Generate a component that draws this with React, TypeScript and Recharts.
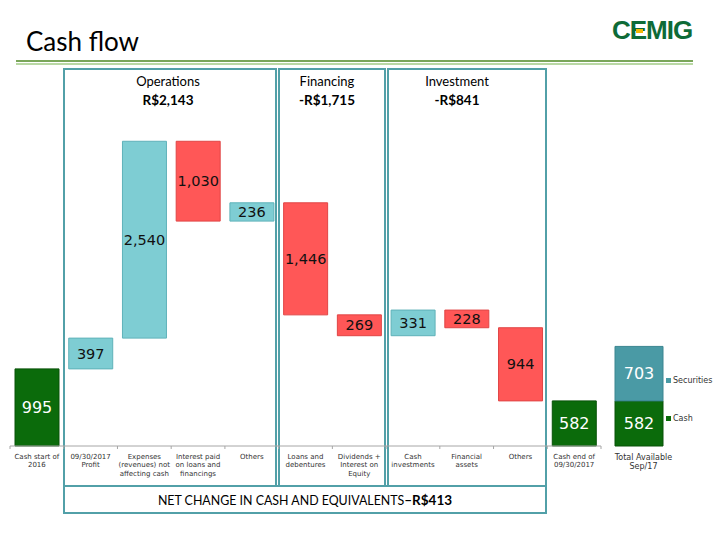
import React from 'react';
import { ComposedChart, Bar, XAxis, YAxis, Cell, LabelList, Legend } from 'recharts';

// ---------- data ----------
const categories = [
  'Cash start of\n2016',
  '09/30/2017\nProfit',
  'Expenses\n(revenues) not\naffecting cash',
  'Interest paid\non loans and\nfinancings',
  'Others',
  'Loans and\ndebentures',
  'Dividends +\nInterest on\nEquity',
  'Cash\ninvestments',
  'Financial\nassets',
  'Others',
  'Cash end of\n09/30/2017',
];
const amounts = [995, 397, 2540, 1030, 236, 1446, 269, 331, 228, 944, 582];
const kinds = ['total', 'in', 'in', 'out', 'in', 'out', 'out', 'in', 'out', 'out', 'total'];

const totalCategory = ['Total Available\nSep/17'];
const totalCash = [582];
const totalSecurities = [703];

const groupTitles = ['Operations', 'Financing', 'Investment'];
const groupValues = ['R$2,143', '-R$1,715', '-R$841'];
const netChangeLabel = 'NET CHANGE IN CASH AND EQUIVALENTS';
const netChangeValue = '\u2013R$413';
const titleText = 'Cash flow';
const logoText = 'CEMIG';

// ---------- derived tables ----------
let running = 0;
const flowData = categories.map((name, i) => {
  const amount = amounts[i];
  const kind = kinds[i];
  let base = 0;
  if (kind === 'total') {
    base = 0;
    running = amount;
  } else if (kind === 'in') {
    base = running;
    running += amount;
  } else {
    running -= amount;
    base = running;
  }
  return { name, base, amount, kind };
});

const totalData = totalCategory.map((name, i) => ({
  name,
  cash: totalCash[i],
  securities: totalSecurities[i],
}));

// ---------- styling / geometry ----------
const GREEN = '#0b6b0b';
const GREEN_EDGE = '#085208';
const TEAL = '#7ecdd3';
const TEAL_EDGE = '#5fb2b9';
const RED = '#ff5757';
const RED_EDGE = '#e04545';
const SEC = '#4a9aa5';
const SEC_EDGE = '#3b8590';
const BOX = '#52a0a8';

const fillOf: Record<string, string> = { total: GREEN, in: TEAL, out: RED };
const edgeOf: Record<string, string> = { total: GREEN_EDGE, in: TEAL_EDGE, out: RED_EDGE };

const PLOT_LEFT = 10;
const PLOT_RIGHT = 601;
const PLOT_TOP = 136;
const AXIS_Y = 446;
const Y_MAX = 4000;
const CHART_H = 540;
const BAND = (PLOT_RIGHT - PLOT_LEFT) / categories.length;

const labelFont = '"DejaVu Sans", Verdana, sans-serif';
const headFont = 'Lato, "Open Sans", sans-serif';

const fmt = (v: number) => v.toLocaleString('en-US');

function FlowTick(props: any) {
  const { x, y, payload } = props;
  const idx = props.index ?? payload?.index ?? 0;
  const lines = String(payload.value).split('\n');
  const left = x - BAND / 2;
  return (
    <g>
      <line x1={left} x2={left} y1={y} y2={y + 3} stroke="#a6a6a6" />
      {idx === categories.length - 1 && (
        <line x1={x + BAND / 2} x2={x + BAND / 2} y1={y} y2={y + 3} stroke="#a6a6a6" />
      )}
      <text x={x} y={y + 12.5} textAnchor="middle" fontFamily={labelFont} fontSize={7} fill="#333">
        {lines.map((l, k) => (
          <tspan key={k} x={x} dy={k === 0 ? 0 : 8.7}>
            {l}
          </tspan>
        ))}
      </text>
    </g>
  );
}

function TotalTick(props: any) {
  const { x, y, payload } = props;
  const lines = String(payload.value).split('\n');
  const cx = x + 5;
  return (
    <text x={cx} y={y + 14} textAnchor="middle" fontFamily={labelFont} fontSize={8} fill="#333">
      {lines.map((l, k) => (
        <tspan key={k} x={cx} dy={k === 0 ? 0 : 9.2}>
          {l}
        </tspan>
      ))}
    </text>
  );
}

function FlowLabel(props: any) {
  const { x, y, width, height, value, index } = props;
  const kind = flowData[index]?.kind;
  const isTotal = kind === 'total';
  return (
    <text
      x={x + width / 2}
      y={y + height / 2}
      textAnchor="middle"
      dominantBaseline="central"
      fontFamily={labelFont}
      fontSize={isTotal ? 16 : 14.5}
      fill={isTotal ? '#ffffff' : '#111111'}
    >
      {fmt(Number(value))}
    </text>
  );
}

function WhiteLabel(props: any) {
  const { x, y, width, height, value } = props;
  return (
    <text
      x={x + width / 2}
      y={y + height / 2}
      textAnchor="middle"
      dominantBaseline="central"
      fontFamily={labelFont}
      fontSize={16}
      fill="#ffffff"
    >
      {fmt(Number(value))}
    </text>
  );
}

function TotalLegend(props: any) {
  const payload = [...(props.payload || [])].reverse();
  return (
    <div style={{ display: 'flex', flexDirection: 'column', gap: 27 }}>
      {payload.map((p: any) => (
        <div
          key={p.value}
          style={{
            display: 'flex',
            alignItems: 'center',
            fontFamily: labelFont,
            fontSize: 8,
            color: '#333',
            height: 11,
            whiteSpace: 'nowrap',
          }}
        >
          <span
            style={{
              display: 'inline-block',
              width: 5,
              height: 5,
              background: p.color,
              marginRight: 2,
            }}
          />
          {p.value}
        </div>
      ))}
    </div>
  );
}

const boxes = [
  { left: 63, width: 214 },
  { left: 278, width: 108 },
  { left: 387, width: 160 },
];
const headerCenters = [168, 327, 457];

export default function App() {
  return (
    <div
      style={{
        position: 'absolute',
        left: 0,
        top: 0,
        width: 720,
        height: 540,
        background: '#ffffff',
        overflow: 'hidden',
      }}
    >
      {/* title */}
      <div
        style={{
          position: 'absolute',
          left: 26,
          top: 24,
          fontFamily: headFont,
          fontSize: 26,
          lineHeight: '34px',
          color: '#000',
        }}
      >
        {titleText}
      </div>
      {/* logo */}
      <div
        style={{
          position: 'absolute',
          left: 612,
          top: 15,
          fontFamily: '"Liberation Sans", Arial, sans-serif',
          fontWeight: 700,
          fontSize: 26,
          lineHeight: '30px',
          letterSpacing: -1,
          color: '#0e6b37',
        }}
      >
        {logoText}
      </div>
      <div style={{ position: 'absolute', left: 636, top: 29, width: 7, height: 4, background: '#f2b705' }} />
      {/* green rules */}
      <div style={{ position: 'absolute', left: 16, top: 60, width: 677, height: 2, background: '#7aa65a' }} />
      <div style={{ position: 'absolute', left: 16, top: 63, width: 677, height: 2, background: '#b9d8a4' }} />

      {/* group boxes */}
      {boxes.map((b, i) => (
        <div
          key={i}
          style={{
            position: 'absolute',
            left: b.left,
            top: 68,
            width: b.width,
            height: 419,
            border: `2px solid ${BOX}`,
            boxSizing: 'border-box',
          }}
        />
      ))}
      {groupTitles.map((t, i) => (
        <div
          key={t}
          style={{
            position: 'absolute',
            left: headerCenters[i] - 60,
            width: 120,
            top: 72,
            textAlign: 'center',
            fontFamily: headFont,
            fontSize: 13,
            lineHeight: '19px',
            color: '#000',
          }}
        >
          <div>{t}</div>
          <div style={{ fontWeight: 700, fontSize: 13.5 }}>{groupValues[i]}</div>
        </div>
      ))}
      <div
        style={{
          position: 'absolute',
          left: 63,
          top: 485,
          width: 484,
          height: 29,
          border: `2px solid ${BOX}`,
          boxSizing: 'border-box',
          display: 'flex',
          alignItems: 'center',
          justifyContent: 'center',
          fontFamily: headFont,
          fontSize: 12.4,
          color: '#000',
        }}
      >
        <span>
          {netChangeLabel}
          <b style={{ fontSize: 13.5 }}>{netChangeValue}</b>
        </span>
      </div>

      {/* main waterfall */}
      <div style={{ position: 'absolute', left: 0, top: 0 }}>
        <ComposedChart
          width={720}
          height={CHART_H}
          data={flowData}
          margin={{ top: PLOT_TOP, right: 720 - PLOT_RIGHT, bottom: 0, left: PLOT_LEFT }}
        >
          <XAxis
            dataKey="name"
            interval={0}
            tick={<FlowTick />}
            tickLine={false}
            tickSize={0}
            tickMargin={0}
            axisLine={{ stroke: '#a6a6a6' }}
            height={CHART_H - AXIS_Y}
          />
          <YAxis hide domain={[0, Y_MAX]} />
          <Bar dataKey="base" stackId="w" fill="transparent" barSize={44} isAnimationActive={false} />
          <Bar dataKey="amount" stackId="w" barSize={44} isAnimationActive={false}>
            {flowData.map((d, i) => (
              <Cell key={i} fill={fillOf[d.kind]} stroke={edgeOf[d.kind]} strokeWidth={1} />
            ))}
            <LabelList dataKey="amount" content={<FlowLabel />} />
          </Bar>
        </ComposedChart>
      </div>

      {/* total available */}
      <div style={{ position: 'absolute', left: 600, top: 0 }}>
        <ComposedChart
          width={120}
          height={CHART_H}
          data={totalData}
          margin={{ top: PLOT_TOP, right: 47, bottom: 0, left: 4 }}
        >
          <XAxis
            dataKey="name"
            interval={0}
            tick={<TotalTick />}
            tickLine={false}
            tickSize={0}
            tickMargin={0}
            axisLine={false}
            height={CHART_H - AXIS_Y}
          />
          <YAxis hide domain={[0, Y_MAX]} />
          <Legend
            layout="vertical"
            align="center"
            verticalAlign="middle"
            content={<TotalLegend />}
            wrapperStyle={{ left: 66, top: 375, width: 60, height: 60 }}
          />
          <Bar dataKey="cash" name="Cash" stackId="t" fill={GREEN} stroke={GREEN_EDGE} barSize={48} isAnimationActive={false}>
            <LabelList dataKey="cash" content={<WhiteLabel />} />
          </Bar>
          <Bar dataKey="securities" name="Securities" stackId="t" fill={SEC} stroke={SEC_EDGE} barSize={48} isAnimationActive={false}>
            <LabelList dataKey="securities" content={<WhiteLabel />} />
          </Bar>
        </ComposedChart>
      </div>
    </div>
  );
}
